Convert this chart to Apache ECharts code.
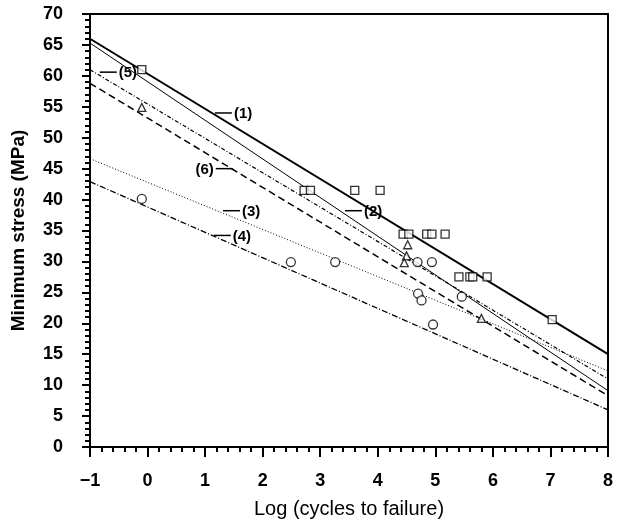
<!DOCTYPE html>
<html>
<head>
<meta charset="utf-8">
<script src="https://cdn.jsdelivr.net/npm/echarts@6/dist/echarts.min.js"></script>
<style>
html,body{margin:0;padding:0;background:#fff;}
#main{width:617px;height:524px;}
</style>
</head>
<body>
<div id="main"></div>
<script>
// fitted lines, value at x = -1 and at x = 8
var lineNames = ['(1)', '(2)', '(3)', '(4)', '(5)', '(6)'];
var lineStartY = [66.0, 65.3, 46.6, 42.9, 61.0, 58.8];
var lineEndY = [15.0, 9.1, 12.3, 6.0, 11.0, 8.3];

// data points
var squareX = [-0.1, 2.72, 2.83, 3.6, 4.04, 4.44, 4.54, 4.85, 4.94, 5.17, 5.41, 5.6, 5.65, 5.9, 7.03];
var squareY = [61, 41.5, 41.5, 41.5, 41.5, 34.4, 34.4, 34.4, 34.4, 34.4, 27.5, 27.5, 27.5, 27.5, 20.6];
var triangleX = [-0.1, 4.52, 4.5, 4.46, 5.8];
var triangleY = [54.9, 32.7, 30.9, 29.8, 20.8];
var circleX = [-0.1, 2.49, 3.26, 4.69, 4.94, 4.7, 4.76, 5.46, 4.96];
var circleY = [40.1, 29.9, 29.9, 29.9, 29.9, 24.8, 23.7, 24.3, 19.8];

// where each line label's leader touches its line
var labelX = [1.17, 3.43, 1.31, 1.15, -0.83, 1.48];
var labelY = [54.0, 38.2, 38.2, 34.2, 60.6, 45.0];
var labelLeft = [false, false, false, false, false, true];

var font = '"Liberation Sans", Arial, sans-serif';

function pairs(xs, ys) {
    var out = [];
    for (var i = 0; i < xs.length; i++) out.push([xs[i], ys[i]]);
    return out;
}

var lineStyles = [
    {width: 2, type: 'solid'},
    {width: 1, type: 'solid'},
    {width: 1, type: [1, 2]},
    {width: 1.3, type: [6, 2, 1, 2]},
    {width: 1.2, type: [4, 2, 1, 2]},
    {width: 1.5, type: [7, 4]}
];

var series = [];
for (var i = 0; i < lineNames.length; i++) {
    series.push({
        type: 'line',
        name: lineNames[i],
        data: [[-1, lineStartY[i]], [8, lineEndY[i]]],
        symbol: 'none',
        silent: true,
        lineStyle: {color: '#000', width: lineStyles[i].width, type: lineStyles[i].type}
    });
}

var markStyle = {color: '#fff', borderColor: '#000', borderWidth: 1.3};
series.push({type: 'scatter', symbol: 'rect', symbolSize: 8, itemStyle: markStyle, data: pairs(squareX, squareY), z: 5});
series.push({type: 'scatter', symbol: 'triangle', symbolSize: 8, itemStyle: markStyle, data: pairs(triangleX, triangleY), z: 5});
series.push({type: 'scatter', symbol: 'circle', symbolSize: 9, itemStyle: markStyle, data: pairs(circleX, circleY), z: 5});

// line labels with short leader strokes
var labelData = [];
for (var j = 0; j < lineNames.length; j++) labelData.push([labelX[j], labelY[j], j]);
series.push({
    type: 'custom',
    clip: false,
    z: 6,
    data: labelData,
    renderItem: function (params, api) {
        var idx = api.value(2);
        var p = api.coord([api.value(0), api.value(1)]);
        var dir = labelLeft[idx] ? -1 : 1;
        var x2 = p[0] + dir * 17;
        return {
            type: 'group',
            children: [
                {type: 'line', shape: {x1: p[0], y1: p[1], x2: x2, y2: p[1]}, style: {stroke: '#000', lineWidth: 1.5}},
                {type: 'text', style: {
                    text: lineNames[idx], x: x2 + dir * 2, y: p[1] + 1,
                    align: labelLeft[idx] ? 'right' : 'left', verticalAlign: 'middle',
                    font: 'bold 15px ' + font, fill: '#000'
                }}
            ]
        };
    }
});

var chart = echarts.init(document.getElementById('main'));
chart.setOption({
    animation: false,
    backgroundColor: '#fff',
    grid: {left: 90, right: 9, top: 14, bottom: 76, show: true, borderColor: '#000', borderWidth: 2, backgroundColor: 'transparent'},
    xAxis: {
        type: 'value', min: -1, max: 8, interval: 1,
        name: 'Log (cycles to failure)', nameLocation: 'middle', nameGap: 52,
        nameTextStyle: {fontFamily: font, fontSize: 20, color: '#000'},
        axisLine: {onZero: false, lineStyle: {color: '#000', width: 2}},
        axisTick: {length: 10, lineStyle: {color: '#000', width: 2}},
        minorTick: {show: true, splitNumber: 5, length: 5, lineStyle: {color: '#000', width: 2}},
        splitLine: {show: false},
        axisLabel: {margin: 25, fontFamily: font, fontSize: 18, fontWeight: 'bold', color: '#000',
            formatter: function (v) { return String(v).replace('-', '\u2212'); }}
    },
    yAxis: {
        type: 'value', min: 0, max: 70, interval: 5,
        name: 'Minimum stress (MPa)', nameLocation: 'middle', nameGap: 62, nameRotate: 90,
        nameTextStyle: {fontFamily: font, fontSize: 19, fontWeight: 'bold', color: '#000'},
        axisLine: {onZero: false, lineStyle: {color: '#000', width: 2}},
        axisTick: {length: 8, lineStyle: {color: '#000', width: 2}},
        minorTick: {show: true, splitNumber: 5, length: 5, lineStyle: {color: '#000', width: 2}},
        splitLine: {show: false},
        axisLabel: {margin: 27, fontFamily: font, fontSize: 18, fontWeight: 'bold', color: '#000'}
    },
    series: series
});
</script>
</body>
</html>
